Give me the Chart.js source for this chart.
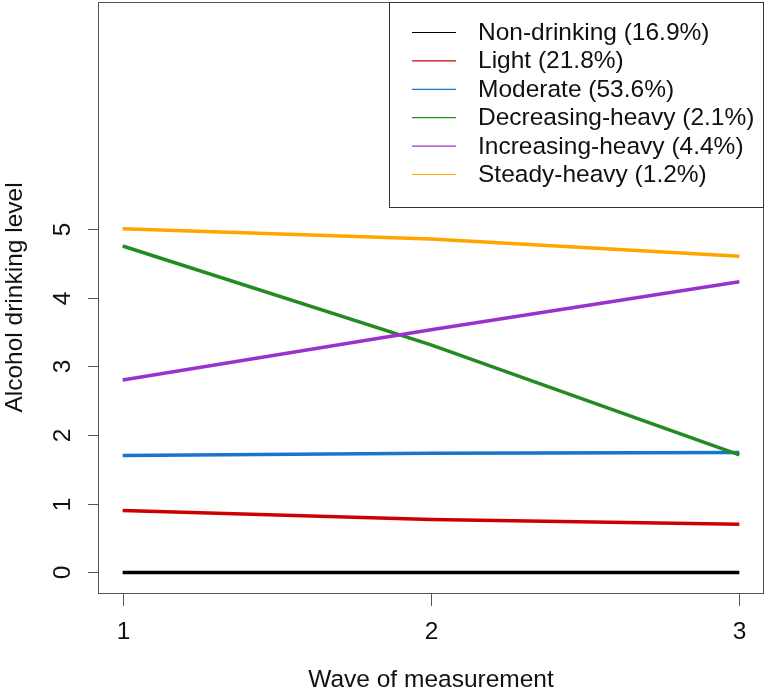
<!DOCTYPE html>
<html>
<head>
<meta charset="utf-8">
<script src="https://cdn.jsdelivr.net/npm/chart.js@4"></script>
<style>
  html, body { margin: 0; padding: 0; background: #fff; }
  #wrap { width: 768px; height: 691px; }
</style>
</head>
<body>
<div id="wrap"><canvas id="lineChart" width="768" height="691"></canvas></div>
<script>
// data
var waves = [1, 2, 3];
var groupNames = ['Non-drinking (16.9%)', 'Light (21.8%)', 'Moderate (53.6%)',
                  'Decreasing-heavy (2.1%)', 'Increasing-heavy (4.4%)', 'Steady-heavy (1.2%)'];
var nonDrinking = [0, 0, 0];
var light = [0.90, 0.77, 0.70];
var moderate = [1.70, 1.735, 1.745];
var decreasingHeavy = [4.75, 3.31, 1.71];
var increasingHeavy = [2.80, 3.53, 4.23];
var steadyHeavy = [5.00, 4.85, 4.60];
var yTicks = [0, 1, 2, 3, 4, 5];
var xTicks = [1, 2, 3];

var colors = ['#000000', '#CD0000', '#1874CD', '#228B22', '#9932CC', '#FFA500'];
var series = [nonDrinking, light, moderate, decreasingHeavy, increasingHeavy, steadyHeavy];

var FONT = '"Liberation Sans", Arial, sans-serif';

// R-style axes, box and legend drawn through the chart's scales
var baseGraphics = {
    id: 'baseGraphics',
    afterDraw: function (chart) {
        var ctx = chart.ctx;
        var a = chart.chartArea;
        var xs = chart.scales.x, ys = chart.scales.y;
        ctx.save();
        ctx.strokeStyle = '#555';
        ctx.lineWidth = 1;
        ctx.strokeRect(a.left + 0.5, a.top + 0.5, a.right - a.left - 1, a.bottom - a.top);

        ctx.fillStyle = '#111';
        ctx.font = '24.5px ' + FONT;
        ctx.textAlign = 'center';
        ctx.textBaseline = 'alphabetic';
        // y ticks
        yTicks.forEach(function (v) {
            var y = Math.round(ys.getPixelForValue(v)) + 0.5;
            ctx.beginPath();
            ctx.moveTo(a.left - 10, y);
            ctx.lineTo(a.left, y);
            ctx.stroke();
            ctx.save();
            ctx.translate(70, y);
            ctx.rotate(-Math.PI / 2);
            ctx.fillText(String(v), 0, 0);
            ctx.restore();
        });
        // x ticks
        xTicks.forEach(function (v) {
            var x = Math.round(xs.getPixelForValue(v)) + 0.5;
            ctx.beginPath();
            ctx.moveTo(x, a.bottom);
            ctx.lineTo(x, a.bottom + 13);
            ctx.stroke();
            ctx.fillText(String(v), x, 639);
        });
        // axis titles
        ctx.fillText('Wave of measurement', (a.left + a.right) / 2, 687);
        ctx.save();
        ctx.translate(22, (a.top + a.bottom) / 2);
        ctx.rotate(-Math.PI / 2);
        ctx.fillText('Alcohol drinking level', 0, 0);
        ctx.restore();

        // legend box in the top right corner
        var lx = 389, ly = a.top, lw = a.right - 389, lh = 205;
        ctx.fillStyle = '#fff';
        ctx.fillRect(lx, ly, lw, lh);
        ctx.strokeStyle = '#333';
        ctx.strokeRect(lx + 0.5, ly + 0.5, lw - 1, lh);
        ctx.textAlign = 'left';
        chart.data.datasets.forEach(function (ds, i) {
            var cy = 32.5 + i * 28.4;
            ctx.strokeStyle = ds.borderColor;
            ctx.lineWidth = 1.2;
            ctx.beginPath();
            ctx.moveTo(412, cy);
            ctx.lineTo(456, cy);
            ctx.stroke();
            ctx.fillStyle = '#111';
            ctx.fillText(ds.label, 478, cy + 7.5);
        });
        ctx.restore();
    }
};

var lineChart = new Chart(document.getElementById('lineChart'), {
    type: 'line',
    data: {
        datasets: series.map(function (vals, i) {
            return {
                label: groupNames[i],
                data: waves.map(function (w, j) { return { x: w, y: vals[j] }; }),
                borderColor: colors[i],
                backgroundColor: colors[i],
                borderWidth: 3.5,
                pointRadius: 0,
                tension: 0,
                fill: false,
                order: -i
            };
        })
    },
    options: {
        responsive: false,
        animation: false,
        devicePixelRatio: 1,
        layout: { padding: { left: 98, top: 2, right: 4, bottom: 98 } },
        plugins: {
            legend: { display: false },
            tooltip: { enabled: false }
        },
        scales: {
            x: { type: 'linear', min: 0.92, max: 3.08, display: false },
            y: { type: 'linear', min: -0.3, max: 8.3, display: false }
        }
    },
    plugins: [baseGraphics]
});
</script>
</body>
</html>
